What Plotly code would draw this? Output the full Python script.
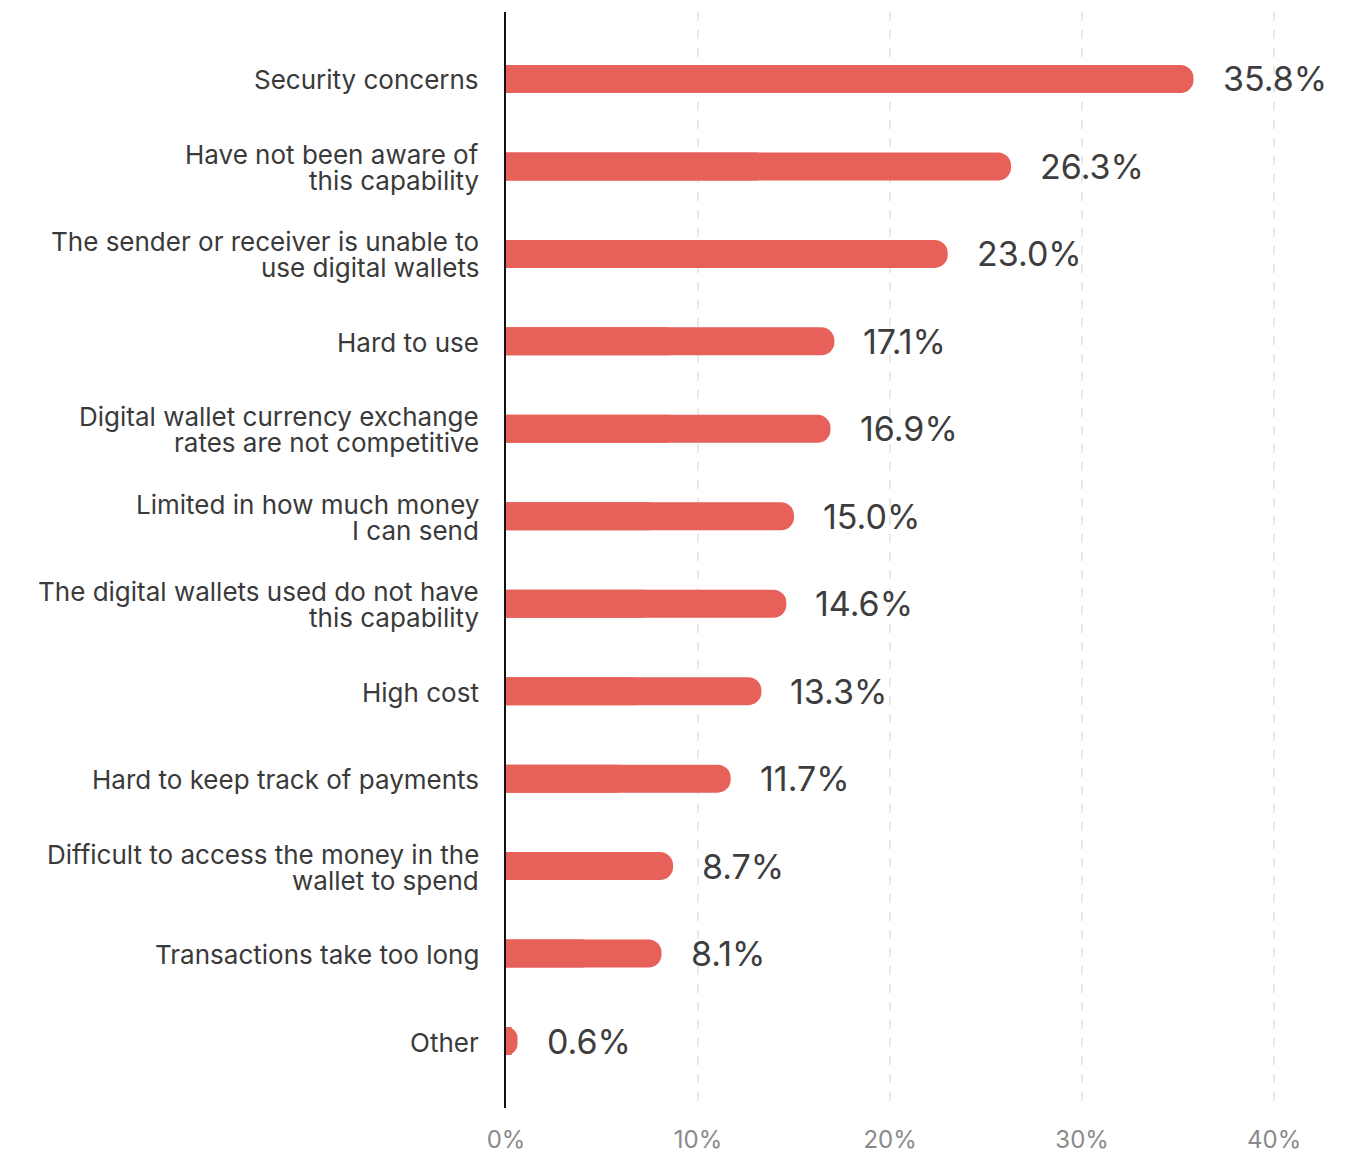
import plotly.graph_objects as go

# Survey answers, listed top to bottom ("<br>" marks a line break)
categories = [
    "Security concerns",
    "Have not been aware of<br>this capability",
    "The sender or receiver is unable to<br>use digital wallets",
    "Hard to use",
    "Digital wallet currency exchange<br>rates are not competitive",
    "Limited in how much money<br>I can send",
    "The digital wallets used do not have<br>this capability",
    "High cost",
    "Hard to keep track of payments",
    "Difficult to access the money in the<br>wallet to spend",
    "Transactions take too long",
    "Other",
]
shares = [35.8, 26.3, 23.0, 17.1, 16.9, 15.0, 14.6, 13.3, 11.7, 8.7, 8.1, 0.6]
value_labels = ["35.8%", "26.3%", "23.0%", "17.1%", "16.9%", "15.0%",
                "14.6%", "13.3%", "11.7%", "8.7%", "8.1%", "0.6%"]
tick_values = [0, 10, 20, 30, 40]
tick_labels = ["0%", "10%", "20%", "30%", "40%"]

BAR = "#E8605A"
FONT = "Inter"
LINE_GAP = 26  # px between lines of a wrapped category label
n = len(categories)
ypos = list(range(n))

fig = go.Figure()
# rounded bar end
fig.add_trace(go.Bar(
    x=shares, y=ypos, orientation="h", width=0.32, opacity=1,
    marker=dict(color=BAR, opacity=1, cornerradius=14, line=dict(width=0)),
    hoverinfo="skip",
))
# near-square left half so only the right end stays visibly rounded
fig.add_trace(go.Bar(
    x=[v / 2 for v in shares], y=ypos, orientation="h", width=0.32, opacity=1,
    marker=dict(color=BAR, opacity=1, cornerradius=0.5, line=dict(width=0)),
    hovertemplate="%{customdata}<extra></extra>", customdata=value_labels,
))

# value labels to the right of each bar
for yi, v, lab in zip(ypos, shares, value_labels):
    fig.add_annotation(
        x=v, y=yi, text=lab, showarrow=False, xanchor="left", yanchor="middle",
        xshift=27, font=dict(family=FONT, size=34, color="#3d3d3d"),
    )

# category labels, right-aligned against the axis, with tight line spacing
for yi, cat in zip(ypos, categories):
    lines = cat.split("<br>")
    m = len(lines)
    for k, line in enumerate(lines):
        fig.add_annotation(
            x=0, xref="paper", y=yi, text=line, showarrow=False,
            xanchor="right", yanchor="middle", xshift=-25,
            yshift=(m - 1) / 2 * LINE_GAP - k * LINE_GAP - 1,
            font=dict(family=FONT, size=26, color="#3a3a3a"),
        )

fig.update_layout(
    width=1356, height=1154,
    margin=dict(l=506, r=5, t=12, b=46),
    paper_bgcolor="white", plot_bgcolor="white",
    barmode="overlay", showlegend=False,
    font=dict(family=FONT),
)
fig.update_xaxes(
    range=[0, 44], tickvals=tick_values, ticktext=tick_labels,
    showgrid=True, gridcolor="#e9e9e9", gridwidth=2, griddash="dash",
    zeroline=False, showline=False, automargin=False,
    ticks="outside", ticklen=0, ticklabelstandoff=10,
    tickfont=dict(family=FONT, size=24, color="#8a8a8a"),
)
fig.update_yaxes(
    range=[n - 1 + 0.766, -0.766], showticklabels=False,
    showgrid=False, zeroline=False, automargin=False,
    showline=True, linecolor="#111111", linewidth=2,
)

fig.write_html("out.html")
